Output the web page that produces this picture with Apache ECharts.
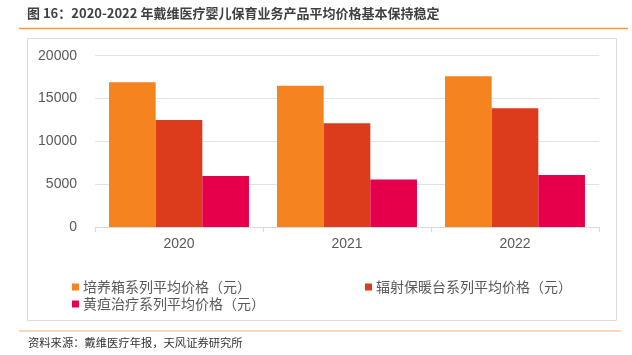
<!DOCTYPE html>
<html><head><meta charset="utf-8">
<script src="https://cdn.jsdelivr.net/npm/echarts@6/dist/echarts.min.js"></script>
<style>html,body{margin:0;padding:0;background:#fff}#c{width:632px;height:355px}</style>
</head><body><div id="c"></div>
<script>
const categories = ['2020', '2021', '2022'];
const seriesNames = ['培养箱系列平均价格（元）', '辐射保暖台系列平均价格（元）', '黄疸治疗系列平均价格（元）'];
const incubator = [16900, 16500, 17600];
const warmer = [12500, 12100, 13850];
const jaundice = [5950, 5550, 6080];
const yTicks = [0, 5000, 10000, 15000, 20000];
const colors = ['#F5831F', '#DC3C1B', '#E6004C'];

const chart = echarts.init(document.getElementById('c'), null, {renderer: 'canvas'});
const fontCJK = '"Noto Sans CJK SC", "Noto Sans", sans-serif';
const fontNum = '"Liberation Sans", Arial, sans-serif';
const legendCommon = {
  icon: 'rect', itemWidth: 7, itemHeight: 7, itemGap: 4,
  textStyle: {fontSize: 14, color: '#595959', fontFamily: fontCJK, padding: [0,0,0,-1]},
  padding: 0, selectedMode: false
};
chart.setOption({
  animation: false,
  backgroundColor: '#fff',
  title: {
    text: '图 16：2020-2022 年戴维医疗婴儿保育业务产品平均价格基本保持稳定',
    left: 27, top: 7, padding: 0,
    textStyle: {fontSize: 13, fontWeight: 'bold', color: '#404040', fontFamily: fontCJK}
  },
  graphic: [
    {type: 'line', shape: {x1: 19, y1: 28.5, x2: 628, y2: 28.5}, style: {stroke: '#F39A3A', lineWidth: 1.5}},
    {type: 'rect', shape: {x: 27.5, y: 38.5, width: 589, height: 282}, style: {fill: 'none', stroke: '#DCDCDC', lineWidth: 1}},
    {type: 'line', shape: {x1: 19, y1: 331, x2: 621, y2: 331}, style: {stroke: '#F5AE78', lineWidth: 1.2}},
    {type: 'text', left: 28, top: 337, style: {text: '资料来源：戴维医疗年报，天风证券研究所', fontSize: 11.3, fill: '#333', fontFamily: fontCJK}}
  ],
  legend: [
    Object.assign({data: [seriesNames[0]], left: 72, top: 280}, legendCommon),
    Object.assign({data: [seriesNames[1]], left: 365, top: 280}, legendCommon),
    Object.assign({data: [seriesNames[2]], left: 72, top: 297}, legendCommon)
  ],
  grid: {left: 95, right: 33, top: 55.7, bottom: 128, containLabel: false},
  xAxis: {
    type: 'category', data: categories,
    axisLine: {lineStyle: {color: '#D9D9D9'}},
    axisTick: {show: true, length: 5, lineStyle: {color: '#D9D9D9'}},
    axisLabel: {fontSize: 14, color: '#595959', fontFamily: fontNum, margin: 10}
  },
  yAxis: {
    type: 'value', min: yTicks[0], max: yTicks[yTicks.length - 1], interval: 5000,
    axisLine: {show: false}, axisTick: {show: false},
    splitLine: {lineStyle: {color: '#E3E3E3'}},
    axisLabel: {fontSize: 14, color: '#595959', fontFamily: fontNum, margin: 18, formatter: v => String(v)}
  },
  series: [
    {name: seriesNames[0], type: 'bar', data: incubator, itemStyle: {color: colors[0]}, barGap: '0%', barCategoryGap: '16.7%'},
    {name: seriesNames[1], type: 'bar', data: warmer, itemStyle: {color: colors[1]}},
    {name: seriesNames[2], type: 'bar', data: jaundice, itemStyle: {color: colors[2]}}
  ]
});
</script></body></html>
